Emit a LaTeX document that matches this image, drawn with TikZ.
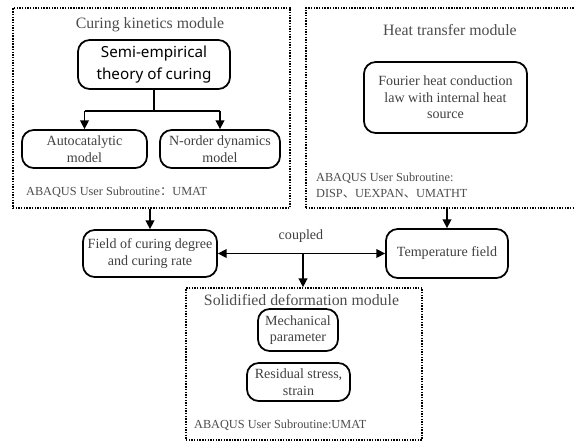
\documentclass[tikz,border=0pt]{standalone}
\usepackage{fontspec}
\setmainfont{Liberation Serif}
\newfontfamily\semifont{Noto Sans}
\newfontfamily\cjk{Noto Sans CJK SC}
\usetikzlibrary{arrows.meta,positioning}

\begin{document}
\begin{tikzpicture}[x=0.03cm, y=-0.03cm,
    module/.style={draw, line width=1.4pt, dash pattern=on 1.2pt off 1.1pt, inner sep=0pt},
    box/.style={draw, line width=1.5pt, rounded corners=10pt, align=center, inner sep=1pt,
                text=black!75, font=\fontsize{12}{14}\selectfont},
    title/.style={text=black!70, font=\fontsize{13.5}{16}\selectfont},
    note/.style={anchor=west, align=left, text=black!70, font=\fontsize{10.5}{14}\selectfont},
    arr/.style={-{Triangle[length=7.5pt,width=7.5pt]}, line width=1.2pt},
    arrs/.style={{Triangle[length=7.5pt,width=7.5pt]}-{Triangle[length=7.5pt,width=7.5pt]}, line width=1.2pt}]
    \useasboundingbox (0,0) rectangle (575,442);

    % curing kinetics module
    \node[module, minimum width=8.31cm, minimum height=6cm] (curmod) at (151.5,108) {};
    \node[title] (curtitle) at (150,25) {Curing kinetics module};
    \node[box, minimum width=4.56cm, minimum height=1.47cm,
          font=\semifont\fontsize{13}{18.5}\selectfont, text=black] (semi) at (154,64.5)
          {Semi-empirical\\theory of curing};
    \node[box, minimum width=3.75cm, minimum height=1.14cm] (auto) at (84.5,149) {Autocatalytic\\model};
    \node[box, minimum width=3.6cm, minimum height=1.14cm] (norder) at (220,149) {N-order dynamics\\model};
    \node[note] (curnote) at (22,192) {ABAQUS User Subroutine{\cjk ：}UMAT};
    \draw[line width=1.2pt] (semi.south) -- ++(0,21) coordinate (split);
    \draw[line width=1.2pt] (split -| auto.north) -- (split -| norder.north);
    \draw[arr] (split -| auto.north) -- (auto.north);
    \draw[arr] (split -| norder.north) -- (norder.north);

    % heat transfer module
    \node[module, minimum width=8.13cm, minimum height=6cm] (heatmod) at (441.5,108) {};
    \node[title] (heattitle) at (450,30) {Heat transfer module};
    \node[box, minimum width=4.89cm, minimum height=2.13cm] (fourier) at (445.5,97.5)
          {Fourier heat conduction\\law with internal heat\\source};
    \node[note] (heatnote) at (312,185.5) {ABAQUS User Subroutine:\\DISP{\cjk 、}UEXPAN{\cjk 、}UMATHT};

    % fields
    \node[box, minimum width=4.02cm, minimum height=1.41cm] (field) at (150,253.5)
          {Field of curing degree\\and curing rate};
    \node[box, minimum width=3.66cm, minimum height=1.47cm] (temp) at (447,253.5) {Temperature field};
    \draw[arr] (field.north |- curmod.south) -- (field.north);
    \draw[arr] (temp.north |- heatmod.south) -- (temp.north);
    \draw[arrs] (field.east) -- (temp.west);
    \node[text=black!75, font=\fontsize{12}{14}\selectfont] (coupled) at (301,236) {coupled};
    \coordinate (branch) at (303,253.5);

    % solidified deformation module
    \node[module, minimum width=7.08cm, minimum height=4.56cm] (solmod) at (304,364) {};
    \node[title] (soltitle) at (301.5,300) {Solidified deformation module};
    \node[box, minimum width=2.4cm, minimum height=1.26cm] (mech) at (298,330) {Mechanical\\parameter};
    \node[box, minimum width=3.09cm, minimum height=1.14cm] (resid) at (298.5,382) {Residual stress,\\strain};
    \node[note] (solnote) at (190,425) {ABAQUS User Subroutine:UMAT};
    \draw[arr] (branch) -- (branch |- solmod.north);
\end{tikzpicture}
\end{document}
